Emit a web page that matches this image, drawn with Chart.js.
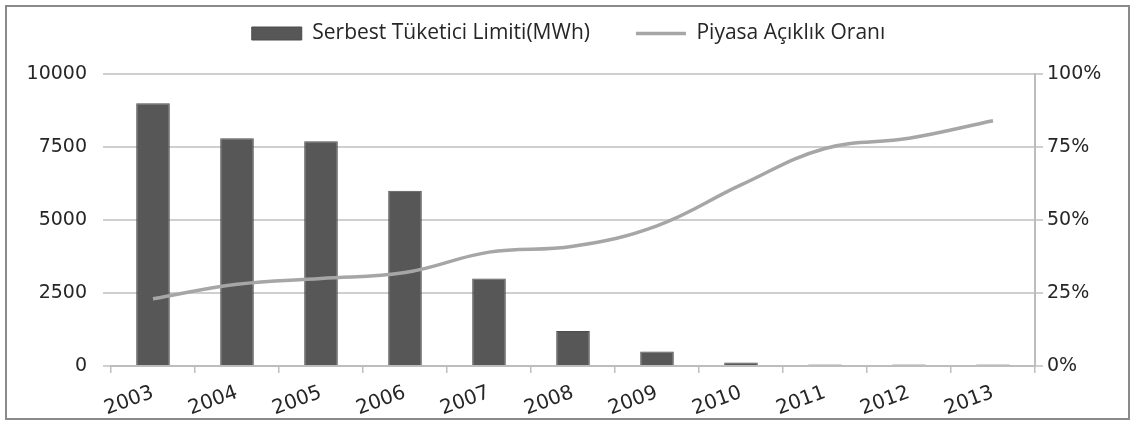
<!DOCTYPE html>
<html>
<head>
<meta charset="utf-8">
<script src="https://cdn.jsdelivr.net/npm/chart.js@4.4.1/dist/chart.umd.min.js"></script>
<style>
    body { margin: 0; background: #fff; }
    .wrap { position: relative; width: 1137px; height: 430px; }
    .frame { position: absolute; left: 5px; top: 5px; width: 1121px; height: 411px; border: 2px solid #8a8a8a; pointer-events: none; }
</style>
</head>
<body>
<div class="wrap">
    <canvas id="chart" width="1137" height="430"></canvas>
    <div class="frame"></div>
</div>
<script>
// Chart data
const years = ['2003', '2004', '2005', '2006', '2007', '2008', '2009', '2010', '2011', '2012', '2013'];
const limitValues = [9000, 7800, 7700, 6000, 3000, 1200, 500, 120, 50, 50, 50];
const opennessValues = [23, 28, 30, 32, 39, 41, 48, 62, 74.5, 78, 84];
const leftTicks = [0, 2500, 5000, 7500, 10000];
const rightTicks = [0, 25, 50, 75, 100];

const textColor = '#262626';

// extra space under the legend, so the plot starts lower
const legendSpace = {
    id: 'legendSpace',
    beforeUpdate(chart) {
        const legend = chart.legend;
        if (legend && !legend._patched) {
            const origFit = legend.fit;
            legend.fit = function() {
                origFit.call(this);
                this.height += 20;
            };
            legend._patched = true;
        }
    }
};

const ctx = document.getElementById('chart').getContext('2d');
const chart = new Chart(ctx, {
    type: 'bar',
    data: {
        labels: years,
        datasets: [{
            type: 'line',
            label: 'Piyasa Açıklık Oranı',
            data: opennessValues,
            yAxisID: 'y1',
            borderColor: '#a6a6a6',
            backgroundColor: '#a6a6a6',
            borderWidth: 3.5,
            tension: 0.4,
            pointRadius: 0,
            pointStyle: 'line',
            order: 0
        }, {
            label: 'Serbest Tüketici Limiti(MWh)',
            data: limitValues,
            yAxisID: 'y',
            backgroundColor: '#575757',
            borderColor: '#4d4d4d',
            borderWidth: 1,
            barPercentage: 0.4,
            categoryPercentage: 1,
            pointStyle: 'rect',
            order: 1
        }]
    },
    plugins: [legendSpace],
    options: {
        responsive: false,
        animation: false,
        layout: {
            padding: { top: -23, left: 0, right: 0, bottom: 0 }
        },
        plugins: {
            legend: {
                position: 'top',
                reverse: true,
                labels: {
                    usePointStyle: true,
                    pointStyleWidth: 50,
                    boxHeight: 13,
                    padding: 46,
                    color: textColor,
                    font: { family: 'Open Sans', size: 21 }
                }
            },
            tooltip: { enabled: false }
        },
        scales: {
            x: {
                offset: true,
                grid: {
                    offset: true,
                    drawOnChartArea: false,
                    drawTicks: true,
                    tickLength: 7,
                    color: '#bdbdbd',
                    lineWidth: 1.5
                },
                border: { color: '#bdbdbd', width: 2 },
                ticks: {
                    color: textColor,
                    font: { family: 'DejaVu Sans', size: 20 },
                    minRotation: 20,
                    maxRotation: 20,
                    padding: 8
                },
                afterFit: (scale) => { scale.height = 64; }
            },
            y: {
                position: 'left',
                min: 0,
                max: 10000,
                afterBuildTicks: (scale) => { scale.ticks = leftTicks.map(v => ({ value: v })); },
                grid: {
                    color: '#cfcfcf',
                    lineWidth: 2,
                    tickLength: 8
                },
                border: { display: false },
                ticks: {
                    color: textColor,
                    font: { family: 'DejaVu Sans', size: 19 },
                    padding: 16,
                    callback: (v) => String(v)
                },
                afterFit: (scale) => { scale.width = 111; }
            },
            y1: {
                position: 'right',
                min: 0,
                max: 100,
                afterBuildTicks: (scale) => { scale.ticks = rightTicks.map(v => ({ value: v })); },
                grid: {
                    drawOnChartArea: false,
                    color: '#cfcfcf',
                    lineWidth: 2,
                    tickLength: 8
                },
                border: { color: '#bdbdbd', width: 2 },
                ticks: {
                    color: textColor,
                    font: { family: 'DejaVu Sans', size: 19 },
                    padding: 4,
                    callback: (v) => v + '%'
                },
                afterFit: (scale) => { scale.width = 102; }
            }
        }
    }
});
</script>
</body>
</html>
